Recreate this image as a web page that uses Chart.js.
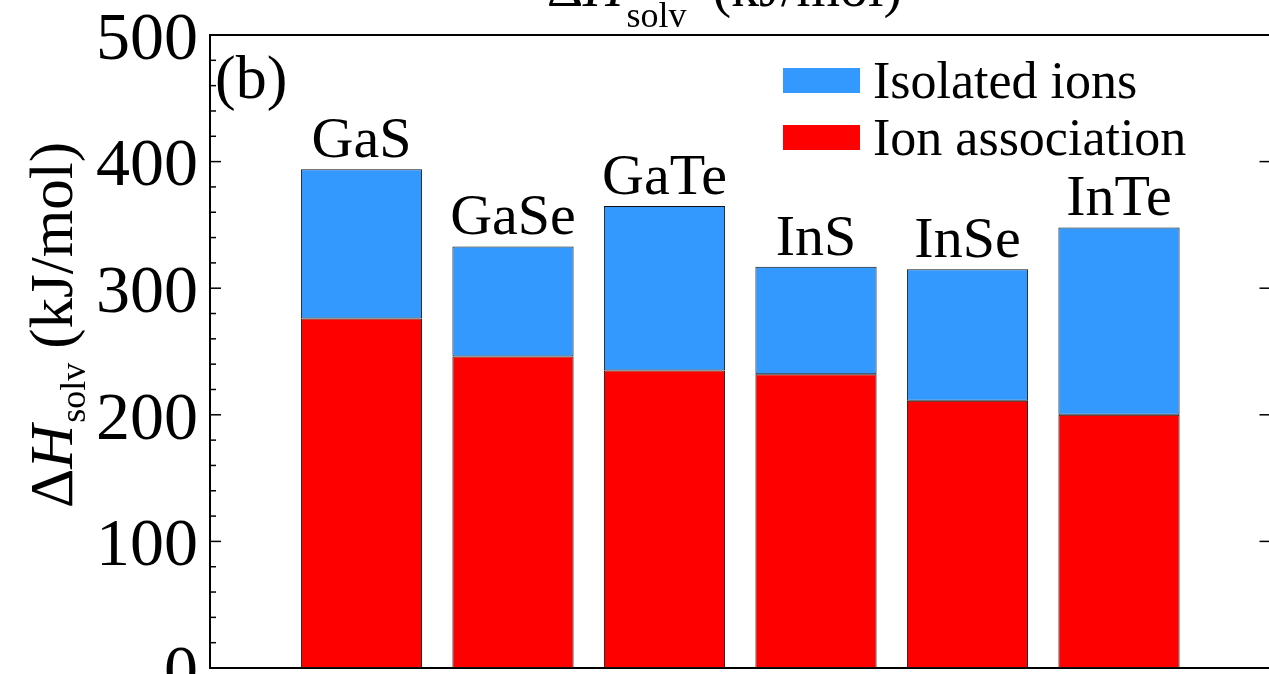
<!DOCTYPE html>
<html><head><meta charset="utf-8">
<script src="https://cdn.jsdelivr.net/npm/chart.js@4"></script>
<style>html,body{margin:0;padding:0;background:#fff;overflow:hidden;} #wrap{width:1280px;height:674px;}</style>
</head><body><div id="wrap"><canvas id="c" width="1280" height="674"></canvas></div>
<script>
// ---- data ----
const categories = ['GaS', 'GaSe', 'GaTe', 'InS', 'InSe', 'InTe'];
const ionAssociation = [276, 246, 235, 232, 211, 200];
const isolatedIons = [118, 87, 130, 85, 104, 148];
const seriesNames = ['Isolated ions', 'Ion association'];
const seriesColors = ['#3399FF', '#FF0000'];
const yMin = 0, yMax = 500, majorStep = 100, minorStep = 20;
const panelLabel = '(b)';

const FONT = '"Liberation Serif", "Times New Roman", serif';
const labels = ['', ...categories, ''];
const pad = arr => [null, ...arr, null];

function drawRich(ctx, parts) {
  let x = 0;
  parts.forEach(p => {
    ctx.font = `${p.italic ? 'italic ' : ''}${p.size}px ${FONT}`;
    x += (p.dx || 0);
    ctx.fillText(p.t, x, p.dy || 0);
    x += ctx.measureText(p.t).width;
  });
}

const decor = {
  id: 'decor',
  afterDraw(chart) {
    const ctx = chart.ctx, a = chart.chartArea, y = chart.scales.y;
    ctx.save();
    ctx.strokeStyle = '#000';
    ctx.lineWidth = 2;
    ctx.beginPath();
    ctx.moveTo(a.left, a.top); ctx.lineTo(a.right, a.top); ctx.lineTo(a.right, a.bottom);
    ctx.stroke();
    ctx.lineWidth = 1.5;
    y.ticks.forEach(t => {
      const py = y.getPixelForValue(t.value);
      const major = t.value % majorStep === 0;
      ctx.beginPath(); ctx.moveTo(a.left, py); ctx.lineTo(a.left + (major ? 11 : 6), py); ctx.stroke();
      if (major) { ctx.beginPath(); ctx.moveTo(a.right, py); ctx.lineTo(a.right - 11, py); ctx.stroke(); }
    });
    // category labels above bars
    const topMeta = chart.getDatasetMeta(1);
    ctx.fillStyle = '#000';
    ctx.font = `58px ${FONT}`;
    ctx.textAlign = 'center';
    ctx.textBaseline = 'alphabetic';
    topMeta.data.forEach((el, i) => { if (labels[i]) ctx.fillText(labels[i], el.x, el.y - 12); });
    // legend
    ctx.textAlign = 'left';
    ctx.font = `52px ${FONT}`;
    seriesNames.forEach((name, i) => {
      const ty = 68 + i * 57;
      ctx.fillStyle = seriesColors[i];
      ctx.fillRect(783, ty, 77, 25);
      ctx.fillStyle = '#000';
      ctx.fillText(name, 873, ty + 30);
    });
    // panel label
    ctx.font = `62px ${FONT}`;
    ctx.fillText(panelLabel, 215, 98);
    // top title (cropped)
    ctx.save();
    ctx.translate(547, 6);
    drawRich(ctx, [
      {t: 'Δ', size: 56}, {t: 'H', size: 56, italic: true},
      {t: 'solv', size: 36, dy: 21, dx: 3}, {t: '(kJ/mol)', size: 56, dx: 26}
    ]);
    ctx.restore();
    // y axis title
    ctx.save();
    ctx.translate(72, 508);
    ctx.rotate(-Math.PI / 2);
    drawRich(ctx, [
      {t: 'Δ', size: 61}, {t: 'H', size: 61, italic: true},
      {t: 'solv', size: 36, dy: 13, dx: 2}, {t: '(kJ/mol)', size: 61, dx: 14}
    ]);
    ctx.restore();
    ctx.restore();
  }
};

new Chart(document.getElementById('c'), {
  type: 'bar',
  data: {
    labels,
    datasets: [
      {label: seriesNames[1], data: pad(ionAssociation), backgroundColor: seriesColors[1], borderColor: '#111', borderWidth: 1, borderSkipped: false},
      {label: seriesNames[0], data: pad(isolatedIons), backgroundColor: seriesColors[0], borderColor: '#111', borderWidth: 1, borderSkipped: false}
    ]
  },
  options: {
    responsive: false,
    devicePixelRatio: 1,
    animation: false,
    layout: {padding: {top: 35, right: 9.5, left: 0, bottom: 0}},
    datasets: {bar: {categoryPercentage: 1, barPercentage: 0.8}},
    plugins: {legend: {display: false}, tooltip: {enabled: false}, title: {display: false}},
    scales: {
      x: {
        stacked: true, offset: false,
        grid: {display: false, drawTicks: false},
        ticks: {display: false},
        border: {display: true, color: '#000', width: 2},
        afterFit(s) { s.height = 6; s.paddingLeft = 0; s.paddingRight = 0; }
      },
      y: {
        stacked: true, min: yMin, max: yMax,
        grid: {display: false, drawTicks: false},
        border: {display: true, color: '#000', width: 2},
        ticks: {
          stepSize: minorStep, autoSkip: false, padding: 12, labelOffset: 6, color: '#000',
          font: {family: FONT, size: 68},
          callback: v => (v % majorStep === 0 ? String(v) : '')
        },
        afterFit(s) { s.width = 210; s.paddingTop = 0; s.paddingBottom = 0; }
      }
    }
  },
  plugins: [decor]
});
</script>
</body></html>
